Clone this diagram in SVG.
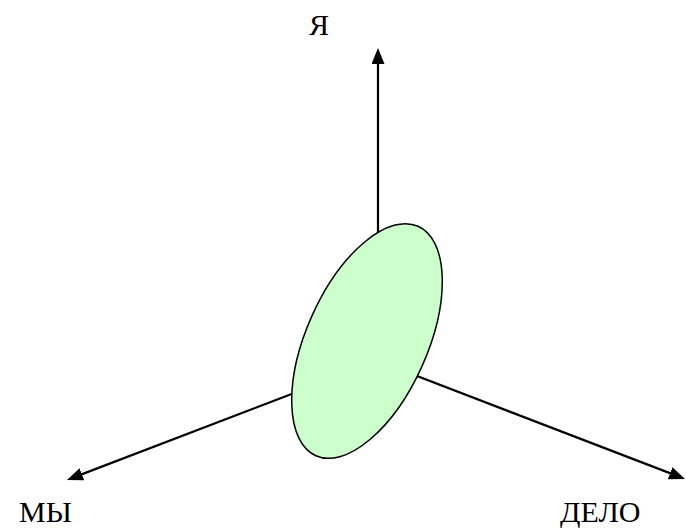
<svg xmlns="http://www.w3.org/2000/svg" width="686" height="528" viewBox="0 0 686 528">
<style>
.ax{stroke:#000;stroke-width:2.2;fill:none}
.lbl{font-family:"Liberation Serif","Times New Roman",serif;font-size:30px;fill:#000}
</style>
<defs>
<marker id="ah" viewBox="0 0 16 13" refX="6" refY="6.5" markerWidth="16" markerHeight="13" markerUnits="userSpaceOnUse" orient="auto">
<path d="M0,0 L16,6.5 L0,13 Z" fill="#000"/>
</marker>
</defs>
<rect width="686" height="528" fill="#fff"/>
<g id="connectors">
<line class="ax" x1="378" y1="361" x2="378" y2="58" marker-end="url(#ah)"/>
<line class="ax" x1="378" y1="361" x2="76.3" y2="476.4" marker-end="url(#ah)"/>
<line class="ax" x1="378" y1="361" x2="675.7" y2="475.4" marker-end="url(#ah)"/>
</g>
<g id="ellipse">
<ellipse cx="367" cy="341" rx="60.5" ry="125.6" transform="rotate(24 367 341)" fill="#ccffcc" stroke="#000" stroke-width="1.5"/>
</g>
<g id="label-ya"><text class="lbl" x="309" y="35">Я</text></g>
<g id="label-my"><text class="lbl" x="19" y="522">МЫ</text></g>
<g id="label-delo"><text class="lbl" x="560" y="522">ДЕЛО</text></g>
</svg>
